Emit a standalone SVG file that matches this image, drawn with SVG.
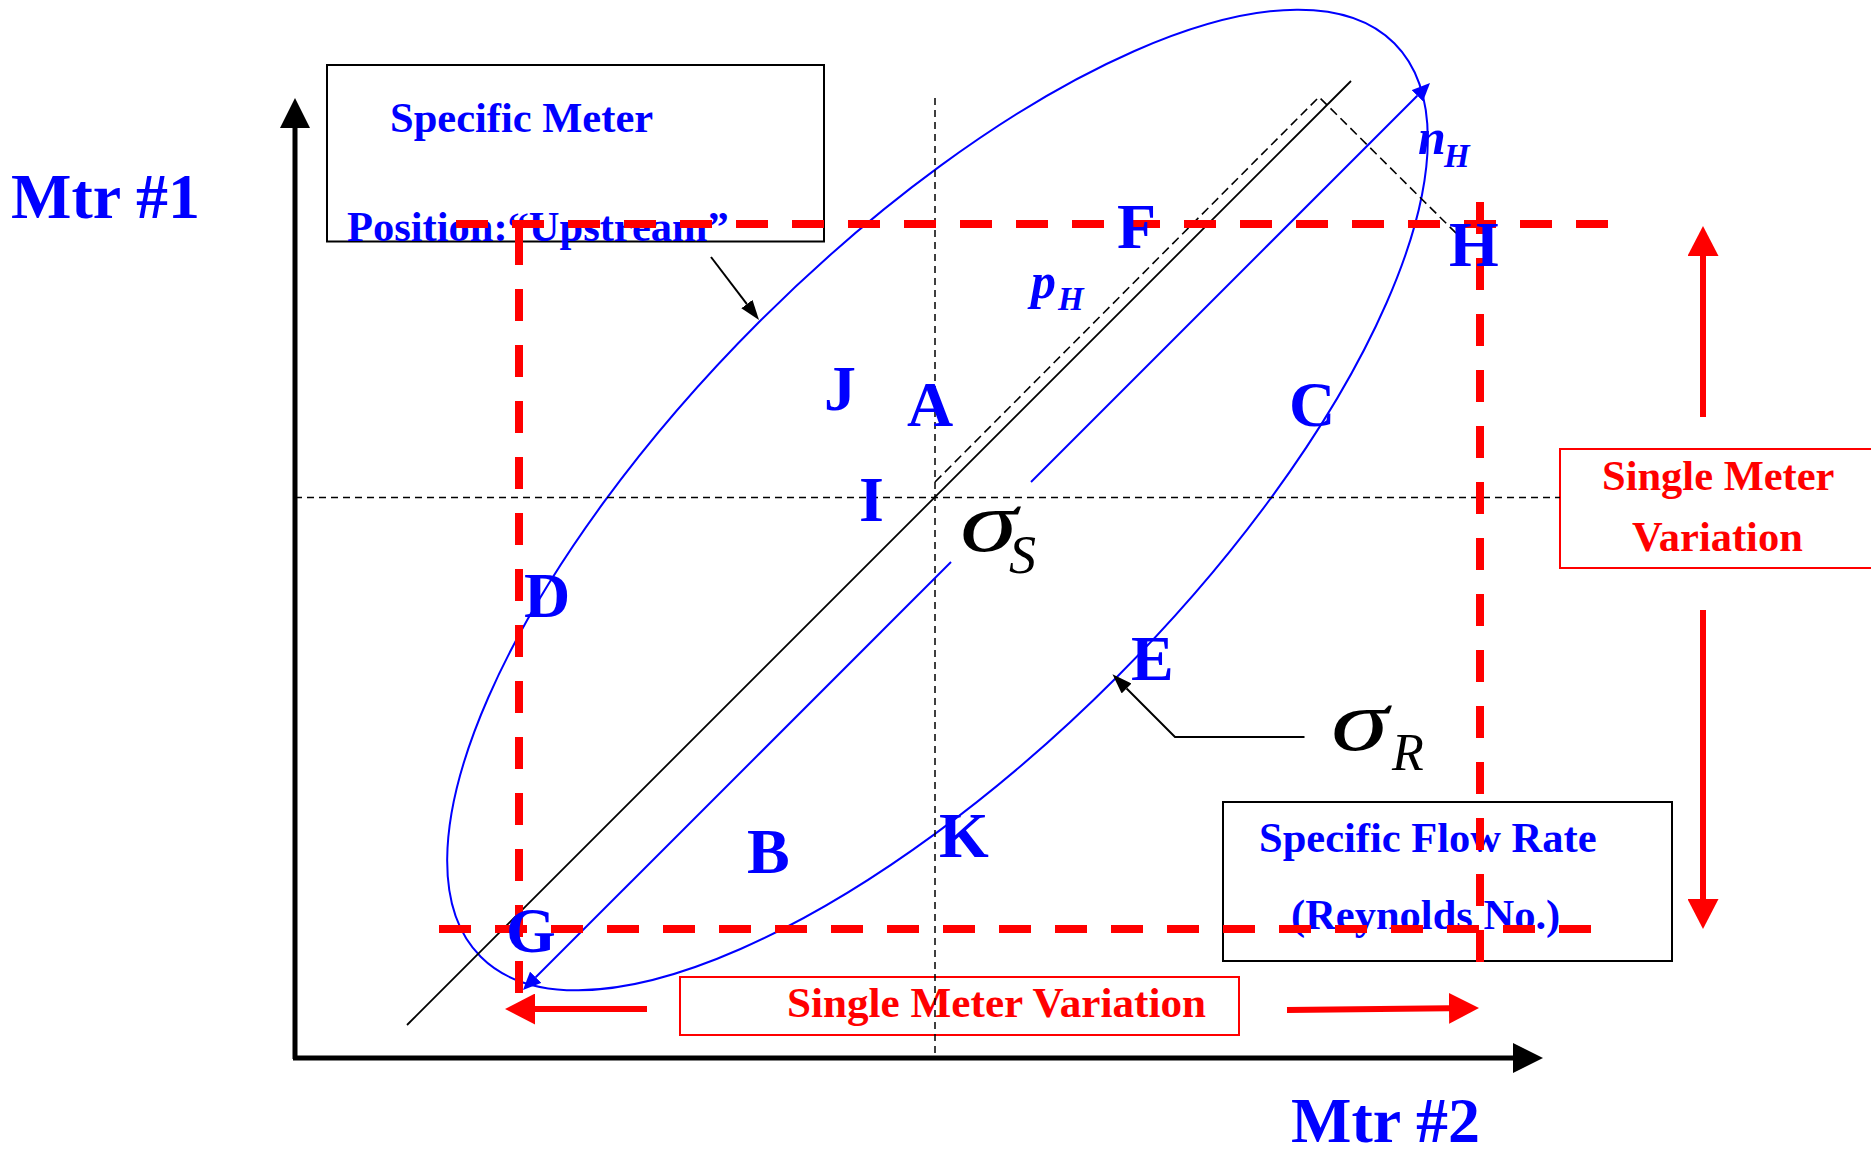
<svg xmlns="http://www.w3.org/2000/svg" width="1871" height="1149" viewBox="0 0 1871 1149">
<defs>
<style>
.lbl{font-family:"Liberation Serif","Times New Roman",serif;font-weight:bold;fill:#0000FF}
.big{font-size:64px}
.mid{font-size:42.5px}
.red{fill:#FF0000}
.sig{font-family:"Liberation Serif","Times New Roman",serif;font-style:italic;fill:#000}
.bi{font-family:"Liberation Serif","Times New Roman",serif;font-style:italic;font-weight:bold;fill:#0000FF}
.rdash{stroke:#FF0000;stroke-width:8;stroke-dasharray:32 24;fill:none}
.kdash{stroke:#000;stroke-width:1.5;stroke-dasharray:7 5;fill:none}
.box{fill:#fff;stroke:#000;stroke-width:2}
.rbox{fill:#fff;stroke:#FF0000;stroke-width:2}
</style>
<marker id="axhead" markerUnits="userSpaceOnUse" markerWidth="30" markerHeight="30" refX="0" refY="15" orient="auto"><path d="M0,0 L30,15 L0,30 z" fill="#000"/></marker>
<marker id="khead" markerUnits="userSpaceOnUse" markerWidth="20" markerHeight="14" refX="0" refY="7" orient="auto"><path d="M0,0 L20,7 L0,14 z" fill="#000"/></marker>
<marker id="bhead" markerUnits="userSpaceOnUse" markerWidth="18" markerHeight="16" refX="0" refY="8" orient="auto"><path d="M0,0 L18,8 L0,16 z" fill="#0000FF"/></marker>
<marker id="rhead" markerUnits="userSpaceOnUse" markerWidth="30" markerHeight="31" refX="0" refY="15.5" orient="auto"><path d="M0,0 L30,15.5 L0,31 z" fill="#FF0000"/></marker>
</defs>
<rect width="1871" height="1149" fill="#fff"/>

<g id="axes">
<line x1="295" y1="1059" x2="295" y2="128" stroke="#000" stroke-width="5" marker-end="url(#axhead)"/>
<line x1="293" y1="1058" x2="1513" y2="1058" stroke="#000" stroke-width="5" marker-end="url(#axhead)"/>
</g>

<g id="box-specific-meter">
<rect class="box" x="327" y="65" width="497" height="176.5"/>
<text class="lbl mid" x="390" y="132">Specific Meter</text>
<text class="lbl mid" x="347" y="241">Position:“Upstream”</text>
</g>

<g id="box-flow-rate">
<rect class="box" x="1223" y="802" width="449" height="159"/>
<text class="lbl mid" x="1259" y="852">Specific Flow Rate</text>
<text class="lbl mid" x="1291" y="929">(Reynolds No.)</text>
</g>

<g id="box-single-meter-vertical">
<rect class="rbox" x="1560" y="449" width="315" height="119"/>
<text class="lbl mid red" x="1602" y="490">Single Meter</text>
<text class="lbl mid red" x="1632" y="551">Variation</text>
</g>

<g id="box-single-meter-horizontal">
<rect class="rbox" x="680" y="977" width="559" height="58"/>
<text class="lbl mid red" x="787" y="1017" textLength="419" lengthAdjust="spacingAndGlyphs">Single Meter Variation</text>
</g>

<g id="ellipse">
<ellipse cx="937.5" cy="500" rx="646" ry="252" transform="rotate(-45 937.5 500)" fill="none" stroke="#0000FF" stroke-width="2"/>
</g>

<g id="connectors">
<line class="kdash" x1="295" y1="497.5" x2="1560" y2="497.5"/>
<line class="kdash" x1="935" y1="98" x2="935" y2="1056"/>
<line x1="407" y1="1025" x2="1351" y2="81" stroke="#000" stroke-width="1.8"/>
<polyline points="935,482 1319,97 1464,241" fill="none" stroke="#000" stroke-width="1.6" stroke-dasharray="9 5"/>
<line x1="951" y1="562" x2="535.7" y2="977.3" stroke="#0000FF" stroke-width="2" marker-end="url(#bhead)"/>
<line x1="1031" y1="482" x2="1417.3" y2="95.7" stroke="#0000FF" stroke-width="2" marker-end="url(#bhead)"/>
<line x1="711" y1="257" x2="746.9" y2="304.1" stroke="#000" stroke-width="2" marker-end="url(#khead)"/>
<polyline points="1304.5,737 1175,737 1126.6,688.5" fill="none" stroke="#000" stroke-width="2" marker-end="url(#khead)"/>
<line class="rdash" x1="456" y1="224" x2="1608" y2="224"/>
<line x1="519" y1="225" x2="519" y2="265" stroke="#FF0000" stroke-width="8"/>
<line class="rdash" x1="519" y1="289" x2="519" y2="993"/>
<line class="rdash" x1="1480" y1="202" x2="1480" y2="962"/>
<line class="rdash" x1="439" y1="929" x2="1591" y2="929"/>
<line x1="1703" y1="417" x2="1703" y2="256" stroke="#FF0000" stroke-width="6" marker-end="url(#rhead)"/>
<line x1="1703" y1="610" x2="1703" y2="899" stroke="#FF0000" stroke-width="6" marker-end="url(#rhead)"/>
<line x1="647" y1="1009" x2="535" y2="1009" stroke="#FF0000" stroke-width="6" marker-end="url(#rhead)"/>
<line x1="1287" y1="1010" x2="1449" y2="1008.3" stroke="#FF0000" stroke-width="6" marker-end="url(#rhead)"/>
</g>

<g id="axis-labels">
<text class="lbl big" x="11" y="218">Mtr #1</text>
<text class="lbl big" x="1291" y="1142">Mtr #2</text>
</g>

<g id="points">
<text class="lbl big" x="1117" y="248">F</text>
<text class="lbl big" x="1449" y="266">H</text>
<text class="lbl big" x="824" y="410">J</text>
<text class="lbl big" x="907" y="426">A</text>
<text class="lbl big" x="1289" y="426">C</text>
<text class="lbl big" x="859" y="521">I</text>
<text class="lbl big" x="524" y="617">D</text>
<text class="lbl big" x="1131" y="680">E</text>
<text class="lbl big" x="747" y="873">B</text>
<text class="lbl big" x="939" y="857">K</text>
<text class="lbl big" x="506" y="952">G</text>
</g>

<g id="symbols">
<text class="bi" x="1418" y="154" font-size="50">n</text>
<text class="bi" x="1444" y="167" font-size="33">H</text>
<text class="bi" x="1031" y="298" font-size="50">p</text>
<text class="bi" x="1058" y="310" font-size="33">H</text>
<text class="sig" transform="translate(960,551) scale(1.35,1)" x="0" y="0" font-size="86">σ</text>
<text class="sig" x="1009" y="573" font-size="54">S</text>
<text class="sig" transform="translate(1331,750) scale(1.35,1)" x="0" y="0" font-size="86">σ</text>
<text class="sig" x="1392" y="770" font-size="52">R</text>
</g>
</svg>
